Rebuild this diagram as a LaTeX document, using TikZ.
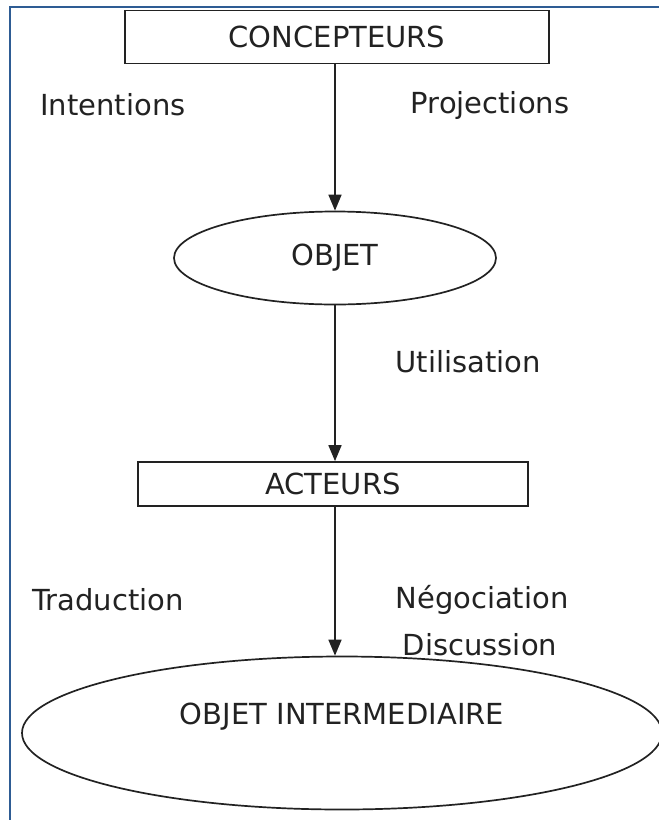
\documentclass[tikz,border=0pt]{standalone}
\usepackage{fontspec}
\setmainfont{DejaVu Sans}
\usetikzlibrary{arrows.meta,shapes.geometric}
\definecolor{framecol}{HTML}{2E5C94}
\definecolor{ink}{HTML}{222222}
\begin{document}
\begin{tikzpicture}[x=1pt,y=-1pt,>={Triangle[length=16pt,width=13pt]},
  every node/.style={font=\fontsize{29}{34}\selectfont, text=ink},
  box/.style={draw=ink, line width=1.7pt, rectangle, inner sep=0pt},
  oval/.style={draw=ink, line width=1.7pt, ellipse, inner sep=0pt},
  link/.style={->, draw=ink, line width=1.6pt}]
  \useasboundingbox (0,0) rectangle (659,820);

  % Frame
  \draw[framecol, line width=2.4pt] (10,820) -- (10,7) -- (659,7);

  % Boxes and ovals
  \node[box, minimum width=424pt, minimum height=53pt] (concepteurs) at (337,37) {CONCEPTEURS};
  \node[oval, minimum width=322pt, minimum height=93pt] (objet) at (335,258) {OBJET};
  \node[box, minimum width=390pt, minimum height=44pt] (acteurs) at (333,484) {ACTEURS};
  \node[oval, minimum width=640pt, minimum height=153pt] (objetinter) at (342,733) {};
  \node (objetintertext) at ([yshift=16pt]objetinter.center) {OBJET INTERMEDIAIRE};

  % Arrows
  \draw[link] (concepteurs.south -| objet.north) -- (objet.north);
  \draw[link] (objet.south) -- (objet.south |- acteurs.north);
  \draw[link] (acteurs.south -| objet.south) -- (objet.south |- objetinter.north);

  % Labels
  \node (intentions) at (113,105) {Intentions};
  \node (projections) at (490,105) {Projections};
  \node (utilisation) at (468,362) {Utilisation};
  \node (traduction) at (108,600) {Traduction};
  \node (negociation) at (482,600) {Négociation};
  \node (discussion) at (480,645) {Discussion};
\end{tikzpicture}
\end{document}
